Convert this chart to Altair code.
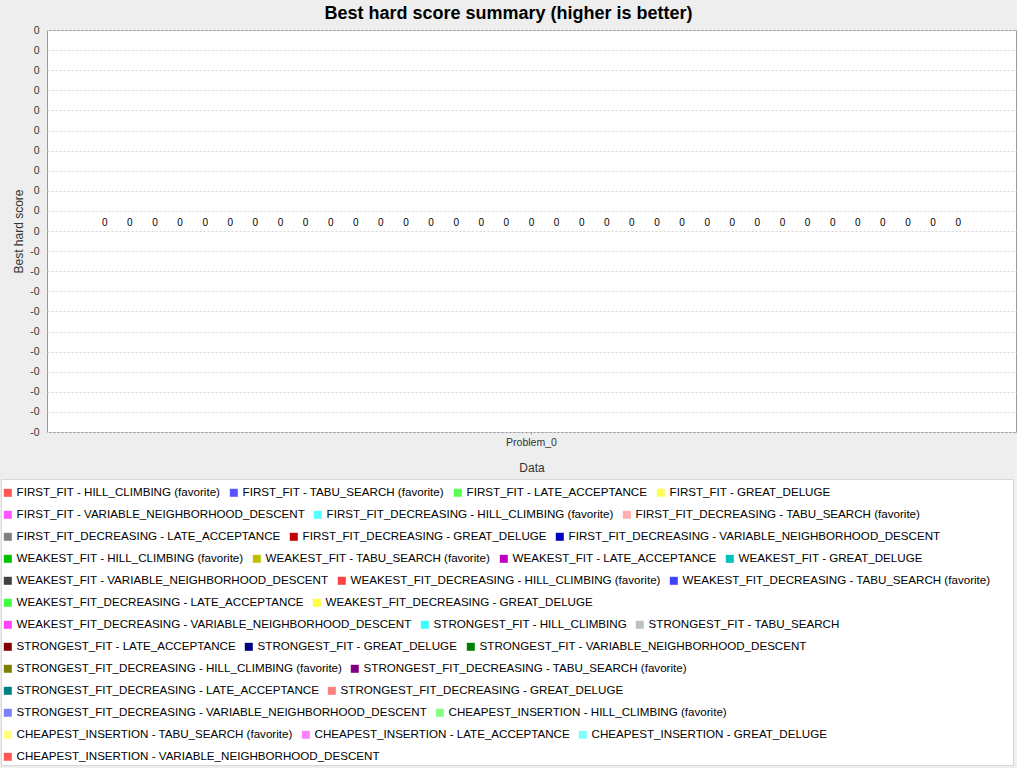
import altair as alt
import pandas as pd

# ---------------- data ----------------
problems = ["Problem_0"]

series = [
    "FIRST_FIT - HILL_CLIMBING (favorite)",
    "FIRST_FIT - TABU_SEARCH (favorite)",
    "FIRST_FIT - LATE_ACCEPTANCE",
    "FIRST_FIT - GREAT_DELUGE",
    "FIRST_FIT - VARIABLE_NEIGHBORHOOD_DESCENT",
    "FIRST_FIT_DECREASING - HILL_CLIMBING (favorite)",
    "FIRST_FIT_DECREASING - TABU_SEARCH (favorite)",
    "FIRST_FIT_DECREASING - LATE_ACCEPTANCE",
    "FIRST_FIT_DECREASING - GREAT_DELUGE",
    "FIRST_FIT_DECREASING - VARIABLE_NEIGHBORHOOD_DESCENT",
    "WEAKEST_FIT - HILL_CLIMBING (favorite)",
    "WEAKEST_FIT - TABU_SEARCH (favorite)",
    "WEAKEST_FIT - LATE_ACCEPTANCE",
    "WEAKEST_FIT - GREAT_DELUGE",
    "WEAKEST_FIT - VARIABLE_NEIGHBORHOOD_DESCENT",
    "WEAKEST_FIT_DECREASING - HILL_CLIMBING (favorite)",
    "WEAKEST_FIT_DECREASING - TABU_SEARCH (favorite)",
    "WEAKEST_FIT_DECREASING - LATE_ACCEPTANCE",
    "WEAKEST_FIT_DECREASING - GREAT_DELUGE",
    "WEAKEST_FIT_DECREASING - VARIABLE_NEIGHBORHOOD_DESCENT",
    "STRONGEST_FIT - HILL_CLIMBING",
    "STRONGEST_FIT - TABU_SEARCH",
    "STRONGEST_FIT - LATE_ACCEPTANCE",
    "STRONGEST_FIT - GREAT_DELUGE",
    "STRONGEST_FIT - VARIABLE_NEIGHBORHOOD_DESCENT",
    "STRONGEST_FIT_DECREASING - HILL_CLIMBING (favorite)",
    "STRONGEST_FIT_DECREASING - TABU_SEARCH (favorite)",
    "STRONGEST_FIT_DECREASING - LATE_ACCEPTANCE",
    "STRONGEST_FIT_DECREASING - GREAT_DELUGE",
    "STRONGEST_FIT_DECREASING - VARIABLE_NEIGHBORHOOD_DESCENT",
    "CHEAPEST_INSERTION - HILL_CLIMBING (favorite)",
    "CHEAPEST_INSERTION - TABU_SEARCH (favorite)",
    "CHEAPEST_INSERTION - LATE_ACCEPTANCE",
    "CHEAPEST_INSERTION - GREAT_DELUGE",
    "CHEAPEST_INSERTION - VARIABLE_NEIGHBORHOOD_DESCENT",
]

best_hard_scores = [0, 0, 0, 0, 0, 0, 0, 0, 0, 0,
                    0, 0, 0, 0, 0, 0, 0, 0, 0, 0,
                    0, 0, 0, 0, 0, 0, 0, 0, 0, 0,
                    0, 0, 0, 0, 0]

colors = [
    "#FF5555", "#5555FF", "#55FF55", "#FFFF55", "#FF55FF", "#55FFFF", "#FFAFAF",
    "#808080", "#C00000", "#0000C0", "#00C000", "#C0C000", "#C000C0", "#00C0C0",
    "#404040", "#FF4040", "#4040FF", "#40FF40", "#FFFF40", "#FF40FF", "#40FFFF",
    "#C0C0C0", "#800000", "#000080", "#008000", "#808000", "#800080", "#008080",
    "#FF8080", "#8080FF", "#80FF80", "#FFFF80", "#FF80FF", "#80FFFF", "#FF5555",
]

# items per line of the legend
legend_lines = [4, 3, 3, 4, 3, 2, 3, 3, 2, 2, 2, 3, 1]

y_ticks = [-1.0, -0.9, -0.8, -0.7, -0.6, -0.5, -0.4, -0.3, -0.2, -0.1, 0.0,
           0.1, 0.2, 0.3, 0.4, 0.5, 0.6, 0.7, 0.8, 0.9, 1.0]

# ---------------- chart ----------------
FONT = "Liberation Sans"

df = pd.DataFrame({
    "problem": [problems[0]] * len(series),
    "series": series,
    "score": best_hard_scores,
})

base = alt.Chart(df).encode(
    x=alt.X(
        "problem:N",
        scale=alt.Scale(paddingInner=0, paddingOuter=0.0515),
        axis=alt.Axis(
            title="Data", labelAngle=0, domain=False, ticks=True, tickSize=2,
            tickColor="#999999", labelFont=FONT, labelFontSize=10.5,
            labelColor="#333333", labelPadding=3, titleFont=FONT,
            titleFontSize=12, titleFontWeight="normal", titleColor="#333333",
            titlePadding=15,
        ),
    ),
    xOffset=alt.XOffset("series:N", sort=series,
                        scale=alt.Scale(paddingInner=0, paddingOuter=0)),
    y=alt.Y(
        "score:Q",
        scale=alt.Scale(domain=[-1, 1], nice=False),
        axis=alt.Axis(
            title="Best hard score", values=y_ticks,
            labelExpr="datum.value < 0 ? '-0' : '0'",
            domain=False, ticks=False, grid=True, gridDash=[2, 2],
            gridColor="#d4d4d4", labelFont=FONT, labelFontSize=10.5,
            labelColor="#333333", labelPadding=8, titleFont=FONT,
            titleFontSize=12, titleFontWeight="normal", titleColor="#333333",
            titlePadding=4,
        ),
    ),
)

bars = base.mark_bar().encode(
    fill=alt.Fill("series:N", sort=series,
                  scale=alt.Scale(domain=series, range=colors), legend=None)
)
labels = base.mark_text(dy=-8, fontSize=10, font=FONT, color="black").encode(
    text=alt.Text("score:Q", format="d")
)

plot = alt.layer(bars, labels).properties(
    width=969, height=402,
    view=alt.ViewBackground(fill="white", stroke="#999999", strokeWidth=1),
)

# empty strip that keeps the plot clear of the left edge
spacer = alt.Chart(pd.DataFrame({"series": series[:1]})).mark_point(opacity=0).properties(
    width=10, height=402,
    view=alt.ViewBackground(fill="transparent", stroke="transparent"),
)

top = alt.hconcat(spacer, plot, spacing=0)

legend_layers = []
start = 0
for i, n in enumerate(legend_lines):
    names = series[start:start + n]
    cols = colors[start:start + n]
    start += n
    ldf = pd.DataFrame({"series": names})
    legend_layers.append(
        alt.Chart(ldf).mark_square(opacity=0).encode(
            color=alt.Color(
                "series:N", sort=names,
                scale=alt.Scale(domain=names, range=cols),
                legend=alt.Legend(
                    orient="none", legendX=1, legendY=8 + 22 * i,
                    direction="horizontal", columns=n, gridAlign="none",
                    title=None, symbolType="square", symbolSize=64,
                    symbolOpacity=1, symbolStrokeWidth=0,
                    labelFont=FONT, labelFontSize=11.6, labelColor="black",
                    labelOffset=3, columnPadding=7, padding=0, labelLimit=0,
                ),
            )
        )
    )

bottom = alt.layer(*legend_layers).resolve_scale(color="independent").resolve_legend(
    color="independent"
).properties(
    width=1012, height=286,
    view=alt.ViewBackground(fill="white", stroke="#d8d8d8", strokeWidth=1),
)

chart = alt.vconcat(top, bottom, spacing=4).resolve_scale(
    color="independent", fill="independent"
).properties(
    title=alt.TitleParams(
        "Best hard score summary (higher is better)", font=FONT, fontSize=18,
        fontWeight="bold", color="black", anchor="middle", offset=2,
    ),
    padding={"left": 0, "top": 4, "right": 0, "bottom": 2},
    background="#EEEEEE",
)

chart.save("out.html", embed_options={"renderer": "svg", "actions": False})
